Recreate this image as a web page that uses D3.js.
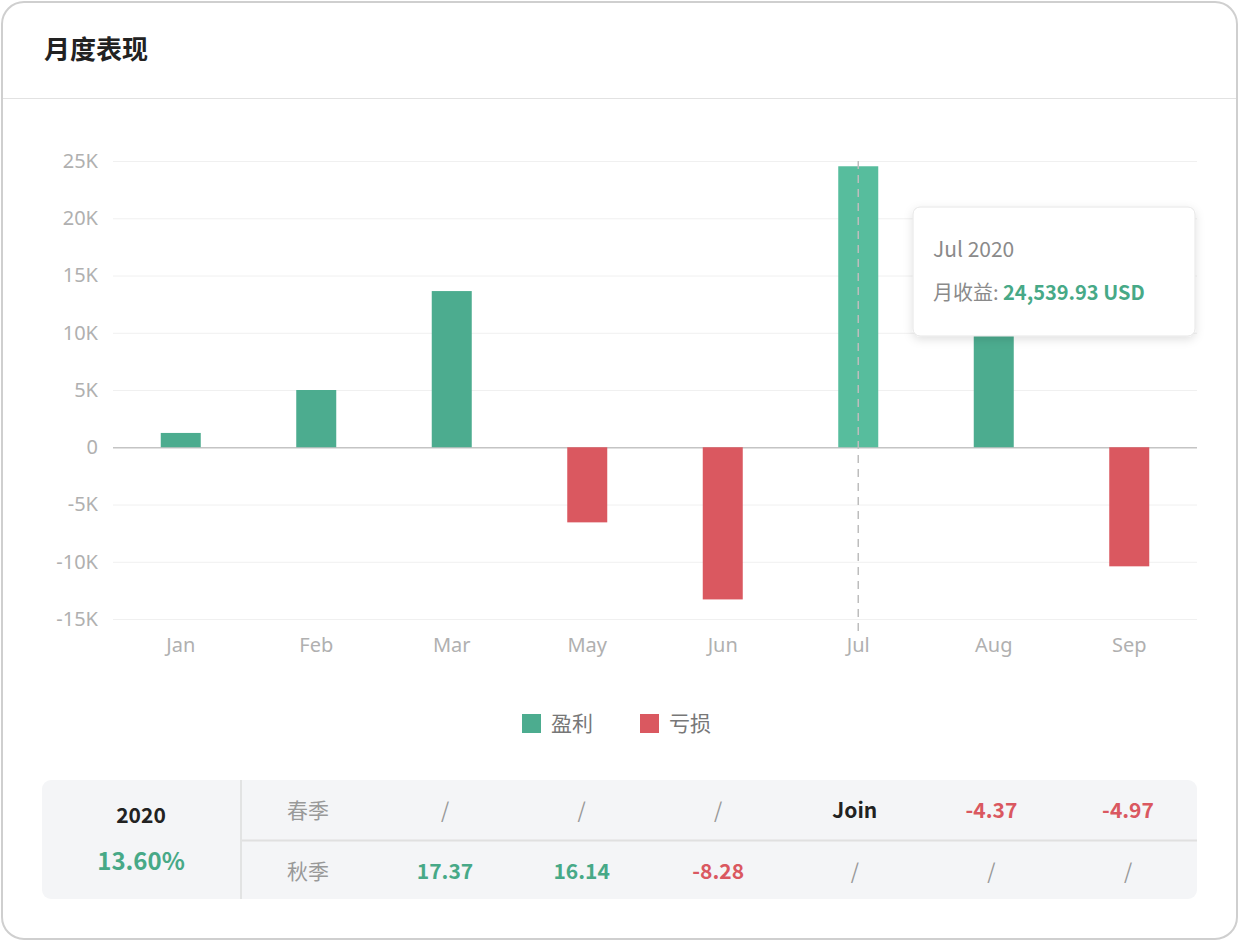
<!DOCTYPE html>
<html><head><meta charset="utf-8">
<script src="https://cdn.jsdelivr.net/npm/d3@7"></script>
<style>
body{margin:0;background:#fff;font-family:"Noto Sans CJK SC","Noto Sans",sans-serif;}
</style></head>
<body>
<script>
// chart data
var months = ['Jan','Feb','Mar','May','Jun','Jul','Aug','Sep'];
var profits = [1250, 5000, 13640, -6560, -13290, 24539.93, 11800, -10400];
var yTicks = [-15000,-10000,-5000,0,5000,10000,15000,20000,25000];
var legendItems = ['盈利','亏损'];
var springRow = ['/','/','/','Join','-4.37','-4.97'];
var autumnRow = ['17.37','16.14','-8.28','/','/','/'];

var W = 1240, H = 948;
var GREEN = '#4cac8f', RED = '#da5860', TGREEN = '#47a987';

var svg = d3.select('body').append('svg').attr('width', W).attr('height', H);

// card
svg.append('rect').attr('x', 2).attr('y', 2).attr('width', 1235).attr('height', 937)
	.attr('rx', 22).attr('fill', '#fff').attr('stroke', '#cfcfcf').attr('stroke-width', 2);
svg.append('line').attr('x1', 3).attr('x2', 1236).attr('y1', 98.5).attr('y2', 98.5).attr('stroke', '#e2e2e2');
svg.append('text').attr('x', 44).attr('y', 59).text('月度表现')
	.attr('font-size', 26).attr('font-weight', 700).attr('fill', '#222');

// scales
var x = d3.scaleBand().domain(months).range([113, 1197]);
var y = d3.scaleLinear().domain([-15000, 25000]).range([619, 161]);

var g = svg.append('g');
g.selectAll('.grid').data(yTicks).enter().append('line')
	.attr('x1', 113).attr('x2', 1197)
	.attr('y1', function(d) { return y(d) + 0.5 }).attr('y2', function(d) { return y(d) + 0.5 })
	.attr('stroke', function(d) { return d === 0 ? '#c4c4c4' : '#f0f0f0' })
	.attr('stroke-width', function(d) { return d === 0 ? 1.5 : 1 });

var yAxis = g.append('g').attr('transform', 'translate(98,0)')
	.call(d3.axisLeft(y).tickValues(yTicks).tickSize(0).tickPadding(0)
		.tickFormat(function(d) { return d === 0 ? '0' : (d / 1000) + 'K' }));
yAxis.select('.domain').remove();
yAxis.selectAll('text').attr('font-size', 20).attr('fill', '#b0b0b0').attr('font-family', '"Noto Sans",sans-serif');

var xAxis = g.append('g').attr('transform', 'translate(0,645)')
	.call(d3.axisBottom(x).tickSize(0).tickPadding(0));
xAxis.select('.domain').remove();
xAxis.selectAll('text').attr('font-size', 20).attr('fill', '#b0b0b0').attr('dy', '0.35em').attr('font-family', '"Noto Sans",sans-serif');

// bars
var bw = 40;
g.selectAll('.bar').data(profits).enter().append('rect')
	.attr('x', function(d, i) { return x(months[i]) + x.bandwidth() / 2 - bw / 2 })
	.attr('y', function(d) { return y(Math.max(0, d)) })
	.attr('width', bw)
	.attr('height', function(d) { return Math.abs(y(d) - y(0)) })
	.attr('fill', function(d, i) { return months[i] === 'Jul' ? '#57bd9d' : (d >= 0 ? GREEN : RED) });

// hover pointer
var jx = x('Jul') + x.bandwidth() / 2;
g.append('line').attr('x1', jx).attr('x2', jx).attr('y1', 161).attr('y2', 632)
	.attr('stroke', '#bdbdbd').attr('stroke-width', 1.5).attr('stroke-dasharray', '8,6');

// tooltip
var defs = svg.append('defs');
var f = defs.append('filter').attr('id', 'sh').attr('x', '-20%').attr('y', '-20%').attr('width', '140%').attr('height', '150%');
f.append('feDropShadow').attr('dx', 0).attr('dy', 3).attr('stdDeviation', 5).attr('flood-color', '#000').attr('flood-opacity', 0.12);
svg.append('rect').attr('x', 913).attr('y', 207).attr('width', 282).attr('height', 129).attr('rx', 7)
	.attr('fill', '#fff').attr('stroke', '#e6e6e6').attr('filter', 'url(#sh)');
svg.append('text').attr('x', 933).attr('y', 257).text('Jul 2020').attr('font-size', 21).attr('fill', '#8a8a8a');
var tt = svg.append('text').attr('x', 933).attr('y', 300).attr('font-size', 20);
tt.append('tspan').attr('fill', '#8a8a8a').text('月收益: ');
tt.append('tspan').attr('fill', TGREEN).attr('font-weight', 700).text(d3.format(',.2f')(profits[5]) + ' USD');

// legend
var lg = svg.selectAll('.lg').data(legendItems).enter().append('g')
	.attr('transform', function(d, i) { return 'translate(' + (522 + i * 118) + ',714)' });
lg.append('rect').attr('width', 19).attr('height', 19).attr('fill', function(d, i) { return i ? RED : GREEN });
lg.append('text').attr('x', 29).attr('y', 17).attr('font-size', 21).attr('fill', '#777').text(function(d) { return d });

// table
svg.append('rect').attr('x', 42).attr('y', 780).attr('width', 1155).attr('height', 119).attr('rx', 9).attr('fill', '#f4f5f7');
svg.append('line').attr('x1', 241).attr('x2', 241).attr('y1', 780).attr('y2', 899).attr('stroke', '#dcdcdc').attr('stroke-width', 1.5);
svg.append('line').attr('x1', 242).attr('x2', 1197).attr('y1', 840.5).attr('y2', 840.5).attr('stroke', '#e0e0e0').attr('stroke-width', 2);
svg.append('text').attr('x', 141).attr('y', 823).attr('text-anchor', 'middle').attr('font-size', 21).attr('font-weight', 700).attr('fill', '#222').text('2020');
svg.append('text').attr('x', 141).attr('y', 870).attr('text-anchor', 'middle').attr('font-size', 24).attr('font-weight', 700).attr('fill', TGREEN).text('13.60%');

function cellColor(v) {
	if (v === '/') return '#999';
	if (v === 'Join') return '#222';
	return v.charAt(0) === '-' ? RED : TGREEN;
}
[['春季', springRow, 818], ['秋季', autumnRow, 879]].forEach(function(r) {
	svg.append('text').attr('x', 308).attr('y', r[2]).attr('text-anchor', 'middle').attr('font-size', 21).attr('fill', '#999').text(r[0]);
	svg.selectAll(null).data(r[1]).enter().append('text')
		.attr('x', function(d, i) { return 445 + i * 136.6 }).attr('y', r[2])
		.attr('text-anchor', 'middle').attr('font-size', 21)
		.attr('font-weight', function(d) { return d === '/' ? 400 : 700 })
		.attr('fill', cellColor).text(function(d) { return d });
});
</script>
</body></html>
